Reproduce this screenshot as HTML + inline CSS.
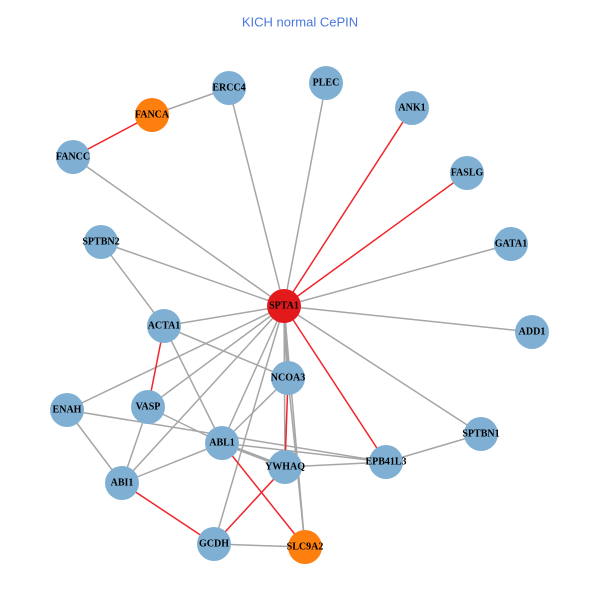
<!DOCTYPE html>
<html><head><style>
html,body{margin:0;padding:0;background:#fff;}
svg text{font-family:"Liberation Serif",serif;font-weight:bold;font-size:10px;text-anchor:middle;dominant-baseline:central;fill:#000;}
</style></head><body>
<svg width="600" height="600" xmlns="http://www.w3.org/2000/svg">
<rect width="600" height="600" fill="#fff"/>
<text x="300" y="22" style="font-family:'Liberation Sans',sans-serif;font-weight:normal;font-size:13px;fill:#4a78e0">KICH normal CePIN</text>
<g stroke="#a6a6a6" stroke-width="1.5">
<line x1="284" y1="306" x2="229" y2="88"/>
<line x1="284" y1="306" x2="326" y2="83"/>
<line x1="284" y1="306" x2="511" y2="244"/>
<line x1="284" y1="306" x2="532" y2="332"/>
<line x1="284" y1="306" x2="481" y2="434"/>
<line x1="284" y1="306" x2="73" y2="157"/>
<line x1="284" y1="306" x2="101" y2="242"/>
<line x1="284" y1="306" x2="164" y2="326"/>
<line x1="284" y1="306" x2="67" y2="410"/>
<line x1="284" y1="306" x2="148" y2="407"/>
<line x1="284" y1="306" x2="122" y2="483"/>
<line x1="284" y1="306" x2="222" y2="443"/>
<line x1="284" y1="306" x2="288" y2="378" stroke-width="3"/>
<line x1="284" y1="306" x2="285" y2="467"/>
<line x1="284" y1="306" x2="214" y2="544"/>
<line x1="284" y1="306" x2="305" y2="547"/>
<line x1="152" y1="115" x2="229" y2="88"/>
<line x1="101" y1="242" x2="164" y2="326"/>
<line x1="164" y1="326" x2="288" y2="378"/>
<line x1="164" y1="326" x2="222" y2="443"/>
<line x1="288" y1="378" x2="222" y2="443"/>
<line x1="288" y1="378" x2="305" y2="547"/>
<line x1="148" y1="407" x2="222" y2="443"/>
<line x1="148" y1="407" x2="122" y2="483"/>
<line x1="67" y1="410" x2="122" y2="483"/>
<line x1="67" y1="410" x2="386" y2="462"/>
<line x1="122" y1="483" x2="222" y2="443"/>
<line x1="222" y1="443" x2="285" y2="467" stroke-width="3"/>
<line x1="222" y1="443" x2="386" y2="462"/>
<line x1="285" y1="467" x2="386" y2="462"/>
<line x1="386" y1="462" x2="481" y2="434"/>
<line x1="214" y1="544" x2="305" y2="547"/>
</g>
<g stroke="#f0252a" stroke-width="1.5">
<line x1="284" y1="306" x2="412" y2="108"/>
<line x1="284" y1="306" x2="467" y2="173"/>
<line x1="284" y1="306" x2="386" y2="462"/>
<line x1="152" y1="115" x2="73" y2="157"/>
<line x1="164" y1="326" x2="148" y2="407"/>
<line x1="288" y1="378" x2="285" y2="467"/>
<line x1="285" y1="467" x2="214" y2="544"/>
<line x1="222" y1="443" x2="305" y2="547"/>
<line x1="122" y1="483" x2="214" y2="544"/>
</g>
<g fill="#7fb0d3">
<circle cx="229" cy="88" r="17"/><circle cx="326" cy="83" r="17"/>
<circle cx="412" cy="108" r="17"/><circle cx="73" cy="157" r="17"/>
<circle cx="467" cy="173" r="17"/><circle cx="101" cy="242" r="17"/>
<circle cx="511" cy="244" r="17"/><circle cx="164" cy="326" r="17"/>
<circle cx="532" cy="332" r="17"/><circle cx="288" cy="378" r="17"/>
<circle cx="67" cy="410" r="17"/><circle cx="148" cy="407" r="17"/>
<circle cx="481" cy="434" r="17"/><circle cx="222" cy="443" r="17"/>
<circle cx="285" cy="467" r="17"/><circle cx="386" cy="462" r="17"/>
<circle cx="122" cy="483" r="17"/><circle cx="214" cy="544" r="17"/>
</g>
<circle cx="152" cy="115" r="17" fill="#ff7f0e"/>
<circle cx="305" cy="547" r="17" fill="#ff7f0e"/>
<circle cx="284" cy="306" r="17" fill="#e31a1c"/>
<text x="229" y="88">ERCC4</text><text x="326" y="83">PLEC</text>
<text x="152" y="115">FANCA</text><text x="412" y="108">ANK1</text>
<text x="73" y="157">FANCC</text><text x="467" y="173">FASLG</text>
<text x="101" y="242">SPTBN2</text><text x="511" y="244">GATA1</text>
<text x="284" y="306">SPTA1</text><text x="164" y="326">ACTA1</text>
<text x="532" y="332">ADD1</text><text x="288" y="378">NCOA3</text>
<text x="67" y="410">ENAH</text><text x="148" y="407">VASP</text>
<text x="481" y="434">SPTBN1</text><text x="222" y="443">ABL1</text>
<text x="285" y="467">YWHAQ</text><text x="386" y="462">EPB41L3</text>
<text x="122" y="483">ABI1</text><text x="214" y="544">GCDH</text>
<text x="305" y="547">SLC9A2</text>
</svg>
</body></html>
